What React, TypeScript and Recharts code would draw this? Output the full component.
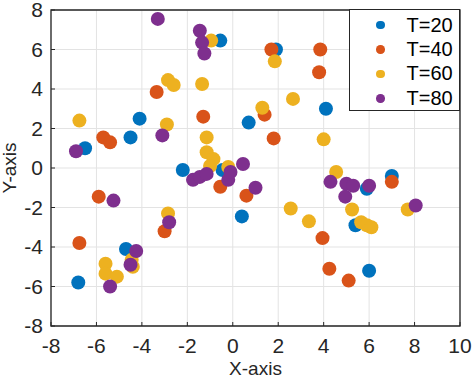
import React from "react";
import {
  ScatterChart,
  Scatter,
  XAxis,
  YAxis,
  CartesianGrid,
  ReferenceArea,
  Legend,
} from "recharts";

// valores
const xTicks = [-8, -6, -4, -2, 0, 2, 4, 6, 8, 10];
const yTicks = [-8, -6, -4, -2, 0, 2, 4, 6, 8];

const t20X = [-6.8, -6.5, -4.5, -4.1, -4.7, -2.2, -0.55, -0.45, 0.4, 0.7, 1.9, 4.1, 5.4, 5.9, 6.0, 7.0];
const t20Y = [-5.8, 1.0, 1.55, 2.5, -4.1, -0.1, 6.45, -0.1, -2.45, 2.3, 6.0, 3.0, -2.9, -1.05, -5.2, -0.4];

const t40X = [-6.75, -5.9, -5.7, -5.4, -3.35, -3.0, -1.3, -0.55, 0.6, 1.4, 1.7, 1.8, 3.8, 3.85, 3.95, 4.25, 5.1, 7.0];
const t40Y = [-3.8, -1.45, 1.55, 1.3, 3.85, -3.2, 2.6, -0.95, -1.4, 2.7, 6.0, 1.5, 4.85, 6.0, -3.55, -5.1, -5.7, -0.7];

const t60X = [-6.75, -5.6, -5.6, -5.1, -4.45, -4.4, -2.9, -2.85, -2.6, -2.85, -1.35, -1.15, -1.15, -0.85, -1.0, -0.95, -0.2, 1.3, 1.85, 2.55, 2.65, 3.35, 4.0, 4.55, 5.25, 5.65, 5.9, 6.1, 7.7];
const t60Y = [2.4, -4.85, -5.35, -5.5, -4.65, -5.0, 2.2, 4.45, 4.2, -2.3, 4.25, 1.55, 0.8, 0.45, 0.1, 6.45, 0.05, 3.05, 5.4, -2.05, 3.5, -2.7, 1.45, -0.2, -2.1, -2.75, -2.9, -3.0, -2.1];

const t80X = [-6.9, -5.4, -5.25, -4.5, -4.25, -3.3, -3.1, -2.8, -1.75, -1.45, -1.45, -1.35, -1.25, -1.15, -0.2, -0.1, 0.45, 1.0, 4.3, 4.95, 5.0, 5.3, 6.0, 8.05];
const t80Y = [0.85, -6.0, -1.65, -4.9, -4.2, 7.55, 1.65, -2.75, -0.6, -0.45, 6.95, 6.35, 5.8, -0.3, -0.6, -0.2, 0.2, -1.0, -0.7, -1.45, -0.8, -0.9, -0.9, -1.9];

const toPoints = (xs: number[], ys: number[]) => xs.map((x, i) => ({ x, y: ys[i] }));

const series = [
  { name: "T=20", color: "#0072BD", data: toPoints(t20X, t20Y) },
  { name: "T=40", color: "#D95319", data: toPoints(t40X, t40Y) },
  { name: "T=60", color: "#EDB120", data: toPoints(t60X, t60Y) },
  { name: "T=80", color: "#7E2F8E", data: toPoints(t80X, t80Y) },
];

const FONT = '"Liberation Sans", Arial, Helvetica, sans-serif';
const INK = "#262626";

const Dot = (color: string) => (props: any) =>
  <circle cx={props.cx} cy={props.cy} r={7} fill={color} />;

const LegendBox = () => (
  <div
    style={{
      width: 111,
      height: 102,
      boxSizing: "border-box",
      border: `1px solid ${INK}`,
      background: "#fff",
      paddingTop: 3,
      fontFamily: FONT,
      fontSize: 20,
      color: "#000",
    }}
  >
    {series.map((s) => (
      <div key={s.name} style={{ display: "flex", alignItems: "center", height: 24.4 }}>
        <span
          style={{
            display: "inline-block",
            marginLeft: 26,
            width: 8.6,
            height: 8.6,
            borderRadius: "50%",
            background: s.color,
          }}
        />
        <span style={{ marginLeft: 22 }}>{s.name}</span>
      </div>
    ))}
  </div>
);

const XLabel = ({ viewBox }: any) => (
  <text
    x={viewBox.x + viewBox.width / 2}
    y={viewBox.y + viewBox.height - 3}
    textAnchor="middle"
    fontFamily={FONT}
    fontSize={19}
    fill={INK}
  >
    X-axis
  </text>
);

const YLabel = ({ viewBox }: any) => {
  const cx = 16;
  const cy = viewBox.y + viewBox.height / 2;
  return (
    <text
      x={cx}
      y={cy}
      transform={`rotate(-90 ${cx} ${cy})`}
      textAnchor="middle"
      fontFamily={FONT}
      fontSize={19}
      fill={INK}
    >
      Y-axis
    </text>
  );
};

const tickStyle = { fontFamily: FONT, fontSize: 21, fill: INK };

export default function App() {
  return (
    <div style={{ position: "absolute", left: 0, top: 0, background: "#fff" }}>
      <ScatterChart width={474} height={378} margin={{ top: 10, right: 14, left: 0, bottom: 0 }}>
        <CartesianGrid stroke="#e3e3e3" strokeWidth={1} />
        <XAxis
          type="number"
          dataKey="x"
          domain={[-8, 10]}
          ticks={xTicks}
          interval={0}
          allowDataOverflow
          height={52}
          axisLine={false}
          tickLine={{ stroke: INK }}
          tickSize={-4}
          tickMargin={16}
          tick={tickStyle}
          label={<XLabel />}
        />
        <XAxis
          xAxisId="top"
          orientation="top"
          type="number"
          domain={[-8, 10]}
          ticks={xTicks}
          interval={0}
          height={0}
          axisLine={false}
          tickLine={{ stroke: INK }}
          tickSize={-4}
          tickFormatter={() => ""}
        />
        <YAxis
          type="number"
          dataKey="y"
          domain={[-8, 8]}
          ticks={yTicks}
          interval={0}
          allowDataOverflow
          width={51}
          axisLine={false}
          tickLine={{ stroke: INK }}
          tickSize={-4}
          tickMargin={12}
          tick={tickStyle}
          label={<YLabel />}
        />
        <YAxis
          yAxisId="right"
          orientation="right"
          type="number"
          domain={[-8, 8]}
          ticks={yTicks}
          interval={0}
          width={0}
          axisLine={false}
          tickLine={{ stroke: INK }}
          tickSize={-4}
          tickFormatter={() => ""}
        />
        {series.map((s) => (
          <Scatter
            key={s.name}
            name={s.name}
            data={s.data}
            fill={s.color}
            shape={Dot(s.color)}
            isAnimationActive={false}
          />
        ))}
        <ReferenceArea x1={-8} x2={10} y1={-8} y2={8} fill="none" stroke={INK} strokeWidth={1.3} />
        <Legend
          layout="horizontal"
          verticalAlign="middle"
          align="center"
          content={<LegendBox />}
          wrapperStyle={{ top: 9, left: 349, width: 111, height: 102 }}
        />
      </ScatterChart>
    </div>
  );
}
